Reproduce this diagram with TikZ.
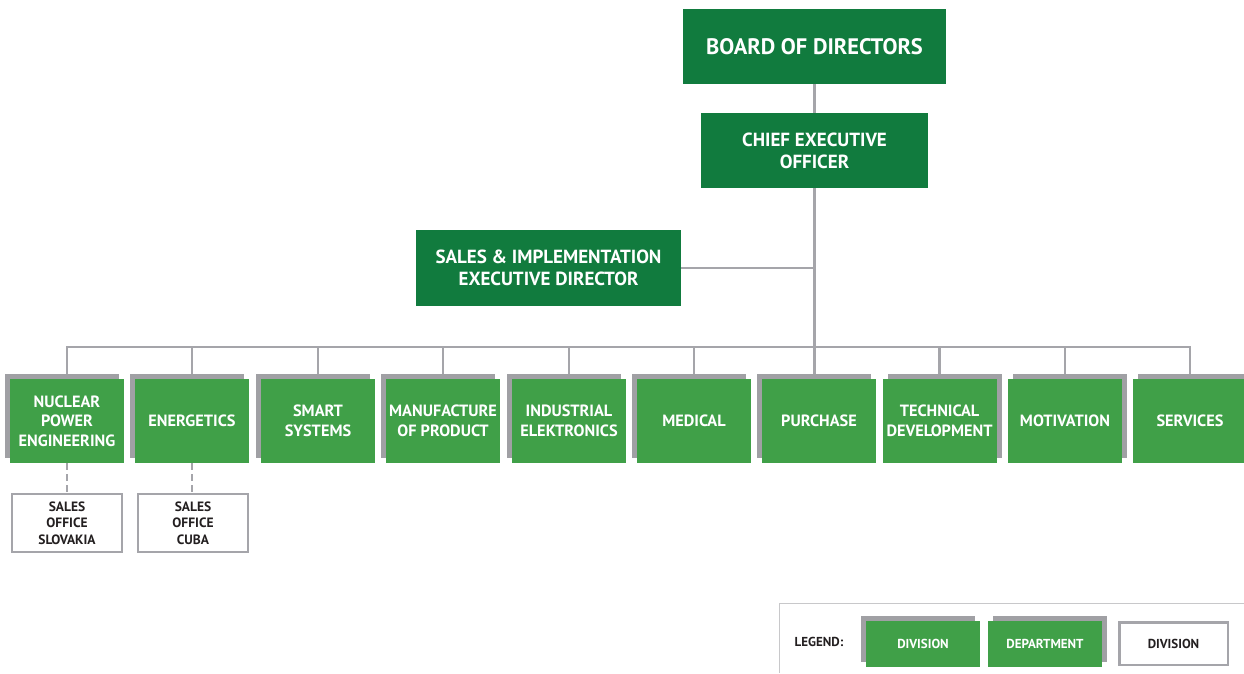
\documentclass[tikz,border=0pt]{standalone}
\usepackage{fontspec}
\setmainfont{PT Sans}
\usetikzlibrary{shadows,backgrounds}
\definecolor{boardgreen}{RGB}{17,123,62}
\definecolor{divgreen}{RGB}{64,160,72}
\definecolor{shadowgray}{RGB}{160,160,164}
\definecolor{linegray}{RGB}{165,165,170}
\definecolor{framegray}{RGB}{200,200,202}
\definecolor{textdark}{RGB}{35,31,32}
\tikzset{
  topbox/.style={fill=boardgreen, text=white, align=center, inner sep=0pt,
    font=\bfseries\fontsize{19}{22}\selectfont},
  unitbox/.style={fill=divgreen, text=white, align=center, inner sep=0pt,
    minimum width=114pt, minimum height=84pt,
    font=\bfseries\fontsize{16.3}{19.5}\selectfont},
  divbox/.style={unitbox, general shadow={fill=shadowgray, shadow xshift=-5pt, shadow yshift=5pt}},
  deptbox/.style={unitbox, general shadow={fill=shadowgray, shadow xshift=5pt, shadow yshift=5pt}},
  officebox/.style={draw=linegray, line width=2.5pt, fill=white, text=textdark, align=center,
    inner sep=0pt, minimum width=110pt, minimum height=58pt,
    font=\bfseries\fontsize{13.5}{16.5}\selectfont},
  legendtext/.style={font=\bfseries\fontsize{13}{15}\selectfont},
  conn/.style={draw=linegray, line width=2.6pt},
  subconn/.style={conn, dash pattern=on 7pt off 4pt},
}
\begin{document}
\begin{tikzpicture}[x=1pt, y=-1pt]
    \useasboundingbox (0,0) rectangle (1244,673);
    \pgfmathsetmacro{\busy}{347};
    \pgfmathsetmacro{\rowy}{421};
    % management
    \node[topbox, minimum width=263pt, minimum height=75pt, font=\bfseries\fontsize{22.4}{24}\selectfont] (board) at (814.5,46.5) {BOARD OF DIRECTORS};
    \node[topbox, minimum width=227pt, minimum height=75pt] (ceo) at (814.5,150.5) {CHIEF EXECUTIVE\\OFFICER};
    \node[topbox, minimum width=265pt, minimum height=76pt] (sied) at (548.5,268) {SALES \& IMPLEMENTATION\\EXECUTIVE DIRECTOR};
    % divisions
    \node[divbox] (nuclear) at (67,\rowy) {NUCLEAR\\POWER\\ENGINEERING};
    \node[divbox] (energetics) at (192,\rowy) {ENERGETICS};
    \node[divbox] (smart) at (318,\rowy) {SMART\\SYSTEMS};
    \node[divbox] (manufacture) at (443,\rowy) {MANUFACTURE\\OF PRODUCT};
    \node[divbox] (industrial) at (569,\rowy) {INDUSTRIAL\\ELEKTRONICS};
    \node[divbox] (medical) at (694,\rowy) {MEDICAL};
    \node[divbox] (purchase) at (819,\rowy) {PURCHASE};
    % departments
    \node[deptbox] (technical) at (939.5,\rowy) {TECHNICAL\\DEVELOPMENT};
    \node[deptbox] (motivation) at (1065,\rowy) {MOTIVATION};
    \node[deptbox] (services) at (1190,\rowy) {SERVICES};
    % sales offices
    \node[officebox] (slovakia) at (67,523) {SALES\\OFFICE\\SLOVAKIA};
    \node[officebox] (cuba) at (193,523) {SALES\\OFFICE\\CUBA};
    % legend
    \draw[framegray, line width=1pt] (779,673) -- (779,603) -- (1244,603);
    \node[text=textdark, legendtext] (legend) at (819,642) {LEGEND:};
    \node[divbox, minimum height=46pt, legendtext] (legdiv) at (923,644) {DIVISION};
    \node[deptbox, minimum height=46pt, legendtext] (legdept) at (1045,644) {DEPARTMENT};
    \node[officebox, minimum width=108.5pt, minimum height=42.5pt, legendtext] (legoffice) at (1173.5,643.5) {DIVISION};
    % connectors
    \begin{scope}[on background layer]
        \coordinate (bus) at (814,\busy);
        \draw[conn] (board) -- (ceo);
        \draw[conn] (ceo.south) -- (ceo.south |- purchase.north);
        \draw[conn] (sied.east) -- (sied.east -| ceo.south);
        \draw[conn] (nuclear.north) -- (nuclear.north |- bus) -- (services.north |- bus) -- (services.north);
        \foreach \n in {energetics,smart,manufacture,industrial,medical,technical,motivation}
            \draw[conn] (\n.north |- bus) -- (\n.north);
        \draw[subconn] (nuclear.south) -- (slovakia.north);
        \draw[subconn] (energetics.south) -- (energetics.south |- cuba.north);
    \end{scope}
\end{tikzpicture}
\end{document}
